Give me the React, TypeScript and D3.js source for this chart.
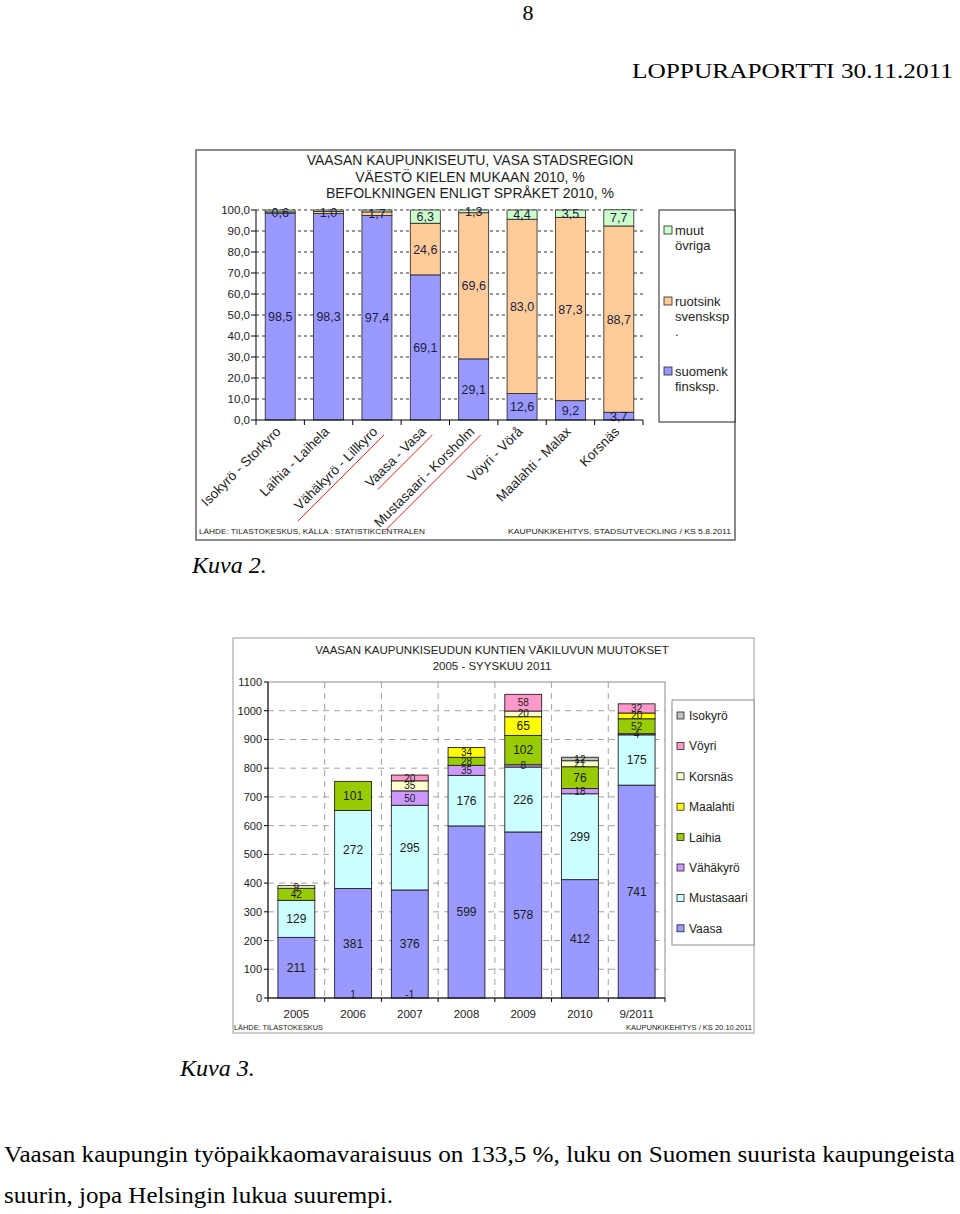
import * as d3 from 'd3';

// Kuva 2: language shares 2010, %
const LANG_AREAS = [
  'Isokyrö - Storkyro',
  'Laihia - Laihela',
  'Vähäkyrö - Lillkyro',
  'Vaasa - Vasa',
  'Mustasaari - Korsholm',
  'Vöyri - Vörå',
  'Maalahti - Malax',
  'Korsnäs',
];
const LANG_FINNISH = [98.5, 98.3, 97.4, 69.1, 29.1, 12.6, 9.2, 3.7];
const LANG_SWEDISH = [0.6, 1.0, 1.7, 24.6, 69.6, 83.0, 87.3, 88.7];
const LANG_OTHER = [0.9, 0.7, 0.9, 6.3, 1.3, 4.4, 3.5, 7.7];
const LANG_TICKS = [0, 10, 20, 30, 40, 50, 60, 70, 80, 90, 100];
// areas underlined by hand (red pen) in the scanned page
const LANG_UNDERLINED = ['Vähäkyrö - Lillkyro', 'Vaasa - Vasa', 'Mustasaari - Korsholm'];

// Kuva 3: population change 2005 - 9/2011
const YEARS = ['2005', '2006', '2007', '2008', '2009', '2010', '9/2011'];
const POP_VAASA = [211, 381, 376, 599, 578, 412, 741];
const POP_MUSTASAARI = [129, 272, 295, 176, 226, 299, 175];
const POP_VAHAKYRO = [0, 0, 50, 35, 8, 18, 4];
const POP_LAIHIA = [42, 101, 0, 28, 102, 76, 52];
const POP_MAALAHTI = [0, 0, 0, 34, 65, 0, 20];
const POP_KORSNAS = [9, 0, 35, 0, 20, 21, 0];
const POP_VOYRI = [0, 0, 20, 0, 58, 0, 32];
const POP_ISOKYRO = [0, 1, -1, 0, 0, 12, 0];
const POP_TICKS = [0, 100, 200, 300, 400, 500, 600, 700, 800, 900, 1000, 1100];

const SANS = '"Liberation Sans", Arial, sans-serif';
const SERIF = '"Liberation Serif", "Times New Roman", serif';

const fiLocale = d3.formatLocale({ decimal: ',', thousands: ' ', grouping: [3], currency: ['', ''] });
const fmt1 = fiLocale.format('.1f');

function LanguageChart() {
  const box = { x: 196, y: 150, w: 539, h: 390 };
  const x0 = 256;
  const x1 = 643;
  const x = d3.scaleBand().domain(LANG_AREAS).range([x0, x1]).paddingInner(0.38).paddingOuter(0.19);
  const y = d3.scaleLinear().domain([0, 100]).range([420, 210]);
  const step = x.step();

  const rows = LANG_AREAS.map((area, i) => ({
    area,
    fi: LANG_FINNISH[i],
    sv: LANG_SWEDISH[i],
    other: LANG_OTHER[i],
  }));
  const keys = ['fi', 'sv', 'other'];
  const colors: Record<string, string> = { fi: '#9999ff', sv: '#ffcc99', other: '#ccffcc' };
  const series = d3.stack<any>().keys(keys)(rows);

  const legend = [
    { key: 'other', lines: ['muut', 'övriga'], y: 235 },
    { key: 'sv', lines: ['ruotsink', 'svensksp', '.'], y: 306 },
    { key: 'fi', lines: ['suomenk', 'finsksp.'], y: 376 },
  ];

  return (
    <g>
      <rect x={box.x} y={box.y} width={box.w} height={box.h} fill="#fff" stroke="#8a8a8a" strokeWidth={2} />
      <g fontFamily={SANS} fontSize={14} fill="#1e1e1e" textAnchor="middle">
        <text x={470} y={165}>VAASAN KAUPUNKISEUTU, VASA STADSREGION</text>
        <text x={470} y={182}>VÄESTÖ KIELEN MUKAAN 2010, %</text>
        <text x={470} y={198}>BEFOLKNINGEN ENLIGT SPRÅKET 2010, %</text>
      </g>

      {LANG_TICKS.filter((t) => t > 0).map((t) => (
        <line key={t} x1={x0} x2={x1} y1={y(t)} y2={y(t)} stroke="#000" strokeWidth={0.8} strokeDasharray="3 3" />
      ))}

      {series.map((s) => (
        <g key={s.key}>
          {s.map((d, i) => (
            <rect
              key={i}
              x={x(LANG_AREAS[i])}
              y={y(d[1])}
              width={x.bandwidth()}
              height={Math.max(0, y(d[0]) - y(d[1]))}
              fill={colors[s.key]}
              stroke="#222"
              strokeWidth={0.8}
            />
          ))}
        </g>
      ))}

      {series.map((s) => (
        <g key={s.key} fontFamily={SANS} fontSize={12.5} fill="#1c1c40" textAnchor="middle">
          {s.map((d, i) => {
            const v = d[1] - d[0];
            if (s.key === 'other' && v < 1) return null;
            return (
              <text key={i} x={(x(LANG_AREAS[i]) as number) + x.bandwidth() / 2} y={y((d[0] + d[1]) / 2)} dy="0.36em">
                {fmt1(v)}
              </text>
            );
          })}
        </g>
      ))}

      {/* axes */}
      <line x1={x0} x2={x0} y1={210} y2={420} stroke="#000" />
      <line x1={x0} x2={x1} y1={420} y2={420} stroke="#000" />
      {LANG_TICKS.map((t) => (
        <g key={t}>
          <line x1={x0 - 5} x2={x0} y1={y(t)} y2={y(t)} stroke="#000" />
          <text x={250} y={y(t)} dy="0.36em" textAnchor="end" fontFamily={SANS} fontSize={11.5} fill="#222">
            {fmt1(t)}
          </text>
        </g>
      ))}
      {d3.range(LANG_AREAS.length + 1).map((k) => (
        <line key={k} x1={x0 + k * step} x2={x0 + k * step} y1={420} y2={425} stroke="#000" />
      ))}

      {LANG_AREAS.map((a) => {
        const cx = (x(a) as number) + x.bandwidth() / 2;
        return (
          <text
            key={a}
            transform={`translate(${cx - 2},${429}) rotate(-45)`}
            textAnchor="end"
            dy="0.36em"
            fontFamily={SANS}
            fontSize={13.5}
            fill="#1e1e1e"
          >
            {a}
          </text>
        );
      })}
      {LANG_UNDERLINED.map((a) => {
        const cx = (x(a) as number) + x.bandwidth() / 2;
        const len = a.length * 6.4;
        const d = len / Math.SQRT2;
        return <line key={a} x1={cx + 7} y1={435} x2={cx + 7 - d} y2={435 + d} stroke="#e02020" strokeWidth={1} />;
      })}

      {/* legend */}
      <rect x={659} y={210} width={76} height={212} fill="#fff" stroke="#222" strokeWidth={1} />
      {legend.map((l) => (
        <g key={l.key}>
          <rect x={664} y={l.y - 9} width={8} height={8} fill={colors[l.key]} stroke="#222" strokeWidth={0.8} />
          {l.lines.map((ln, j) => (
            <text key={j} x={675} y={l.y + j * 15} fontFamily={SANS} fontSize={13} fill="#1e1e1e">
              {ln}
            </text>
          ))}
        </g>
      ))}

      <g fontFamily={SANS} fontSize={7.5} fill="#222">
        <text x={199} y={534} textLength={226} lengthAdjust="spacingAndGlyphs">
          LÄHDE: TILASTOKESKUS, KÄLLA : STATISTIKCENTRALEN
        </text>
        <text x={508} y={534} textLength={223} lengthAdjust="spacingAndGlyphs">
          KAUPUNKIKEHITYS, STADSUTVECKLING / KS 5.8.2011
        </text>
      </g>
    </g>
  );
}

function PopulationChart() {
  const x0 = 268;
  const x1 = 665;
  const x = d3.scaleBand().domain(YEARS).range([x0, x1]).paddingInner(0.35).paddingOuter(0.175);
  const y = d3.scaleLinear().domain([0, 1100]).range([998, 682]);
  const step = x.step();

  const names = ['Vaasa', 'Mustasaari', 'Vähäkyrö', 'Laihia', 'Maalahti', 'Korsnäs', 'Vöyri', 'Isokyrö'];
  const values = [
    POP_VAASA,
    POP_MUSTASAARI,
    POP_VAHAKYRO,
    POP_LAIHIA,
    POP_MAALAHTI,
    POP_KORSNAS,
    POP_VOYRI,
    POP_ISOKYRO,
  ];
  const colors = ['#9999ff', '#ccffff', '#cc99ff', '#99cc00', '#ffff00', '#ffffcc', '#ff99cc', '#c0c0c0'];
  const rows = YEARS.map((yr, i) => {
    const r: Record<string, any> = { year: yr };
    names.forEach((n, j) => (r[n] = values[j][i]));
    return r;
  });
  // the tiny Isokyrö changes of 2006/2007 sit at the base of the bar in the original
  const series = d3.stack<any>().keys(names).offset(d3.stackOffsetDiverging)(rows);

  return (
    <g>
      <rect x={233} y={638} width={521} height={395} fill="#fff" stroke="#9a9a9a" strokeWidth={1} />
      <g fontFamily={SANS} fontSize={11.5} fill="#222" textAnchor="middle">
        <text x={492} y={654}>VAASAN  KAUPUNKISEUDUN KUNTIEN VÄKILUVUN MUUTOKSET</text>
        <text x={492} y={670}>2005 - SYYSKUU 2011</text>
      </g>

      {POP_TICKS.filter((t) => t > 0 && t < 1100).map((t) => (
        <line key={t} x1={x0} x2={x1} y1={y(t)} y2={y(t)} stroke="#8c8c8c" strokeWidth={0.8} strokeDasharray="6 5" />
      ))}
      {d3.range(1, YEARS.length).map((k) => (
        <line key={k} x1={x0 + k * step} x2={x0 + k * step} y1={y(1100)} y2={y(0)} stroke="#8c8c8c" strokeWidth={0.8} strokeDasharray="6 5" />
      ))}
      <rect x={x0} y={y(1100)} width={x1 - x0} height={y(0) - y(1100)} fill="none" stroke="#8c8c8c" strokeWidth={1} />

      {series.map((s, j) => (
        <g key={s.key}>
          {s.map((d, i) => {
            const v = rows[i][s.key as string] as number;
            if (v === 0 || Math.abs(v) < 2) return null;
            return (
              <rect
                key={i}
                x={x(YEARS[i])}
                y={y(Math.max(d[0], d[1]))}
                width={x.bandwidth()}
                height={Math.abs(y(d[0]) - y(d[1]))}
                fill={colors[j]}
                stroke="#222"
                strokeWidth={0.9}
              />
            );
          })}
        </g>
      ))}

      {series.map((s) => (
        <g key={s.key} fontFamily={SANS} fill="#1a1a1a" textAnchor="middle">
          {s.map((d, i) => {
            const v = rows[i][s.key as string] as number;
            if (v === 0) return null;
            const small = Math.abs(v) < 2;
            return (
              <text
                key={i}
                x={(x(YEARS[i]) as number) + x.bandwidth() / 2}
                y={small ? y(0) - 4 : y((d[0] + d[1]) / 2)}
                dy="0.36em"
                fontSize={Math.abs(v) >= 60 ? 12 : 10}
              >
                {v}
              </text>
            );
          })}
        </g>
      ))}

      <line x1={x0} x2={x0} y1={y(1100)} y2={y(0)} stroke="#000" />
      <line x1={x0} x2={x1} y1={y(0)} y2={y(0)} stroke="#000" />
      {POP_TICKS.map((t) => (
        <g key={t}>
          <line x1={x0 - 4} x2={x0} y1={y(t)} y2={y(t)} stroke="#000" />
          <text x={262} y={y(t)} dy="0.36em" textAnchor="end" fontFamily={SANS} fontSize={11} fill="#222">
            {t}
          </text>
        </g>
      ))}
      {d3.range(YEARS.length + 1).map((k) => (
        <line key={k} x1={x0 + k * step} x2={x0 + k * step} y1={y(0)} y2={y(0) + 4} stroke="#000" />
      ))}
      {YEARS.map((yr) => (
        <text
          key={yr}
          x={(x(yr) as number) + x.bandwidth() / 2}
          y={1018}
          textAnchor="middle"
          fontFamily={SANS}
          fontSize={11.5}
          fill="#222"
        >
          {yr}
        </text>
      ))}

      {/* legend */}
      <rect x={672} y={700} width={82} height={245} fill="#fff" stroke="#8c8c8c" strokeWidth={1} />
      {names
        .map((n, j) => ({ n, c: colors[j] }))
        .reverse()
        .map((l, k) => (
          <g key={l.n}>
            <rect x={677} y={712 + k * 30.4} width={7} height={7} fill={l.c} stroke="#222" strokeWidth={0.8} />
            <text x={689} y={720 + k * 30.4} fontFamily={SANS} fontSize={12} fill="#222">
              {l.n}
            </text>
          </g>
        ))}

      <g fontFamily={SANS} fontSize={7} fill="#222">
        <text x={234} y={1030} textLength={89} lengthAdjust="spacingAndGlyphs">
          LÄHDE: TILASTOKESKUS
        </text>
        <text x={626} y={1030} textLength={126} lengthAdjust="spacingAndGlyphs">
          KAUPUNKIKEHITYS / KS 20.10.2011
        </text>
      </g>
    </g>
  );
}

export default function App() {
  return (
    <div style={{ position: 'absolute', left: 0, top: 0 }}>
      <svg width={960} height={1214} style={{ display: 'block', background: '#fff' }}>
        <rect width={960} height={1214} fill="#fff" />
        <g fontFamily={SERIF} fill="#000">
          <text x={528} y={20} textAnchor="middle" fontSize={22}>8</text>
          <text x={953} y={78} textAnchor="end" fontSize={20} textLength={321} lengthAdjust="spacingAndGlyphs">
            LOPPURAPORTTI 30.11.2011
          </text>
          <text x={192} y={573} fontSize={24} fontStyle="italic">Kuva 2.</text>
          <text x={180} y={1076} fontSize={24} fontStyle="italic">Kuva 3.</text>
          <text x={4} y={1162} fontSize={24} textLength={951} lengthAdjust="spacingAndGlyphs">
            Vaasan kaupungin työpaikkaomavaraisuus on 133,5 %, luku on Suomen suurista kaupungeista
          </text>
          <text x={4} y={1203} fontSize={24} textLength={389} lengthAdjust="spacingAndGlyphs">
            suurin, jopa Helsingin lukua suurempi.
          </text>
        </g>
        <LanguageChart />
        <PopulationChart />
      </svg>
    </div>
  );
}
